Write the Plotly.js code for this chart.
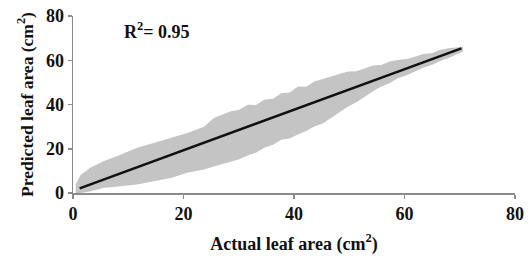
<!DOCTYPE html>
<html>
<head>
<meta charset="utf-8">
<script src="https://cdn.plot.ly/plotly-3.0.1.min.js"></script>
<style>html,body{margin:0;padding:0;background:#fff;}#chart{width:528px;height:259px;}</style>
</head>
<body>
<div id="chart"></div>
<script>
// Envelope of the scatter cloud (actual vs predicted leaf area)
const bandX     = [0.5, 1.4, 3.2, 5.5, 8.6, 11.6, 14.6, 17.7, 20.7, 23.7, 25.5, 28.6, 30.1, 31.6, 33.1, 34.6, 36.2, 37.7, 39.2, 40.7, 42.2, 43.7, 45.2, 46.7, 48.3, 49.8, 51.3, 52.8, 54.3, 55.8, 57.3, 58.8, 60.4, 61.9, 63.4, 64.9, 66.4, 67.9, 70.6];
const bandUpper = [4.0, 8.3, 11.5, 14.3, 17.3, 20.4, 22.6, 24.9, 27.1, 30.0, 33.9, 37.0, 37.6, 39.9, 39.8, 42.1, 42.6, 45.1, 45.4, 48.1, 48.0, 50.4, 51.4, 52.6, 53.9, 54.9, 55.0, 56.4, 57.6, 57.9, 59.4, 60.1, 60.6, 61.6, 62.8, 63.2, 64.6, 65.4, 66.1];
const bandLower = [0.0, 0.0, 0.8, 2.3, 3.0, 3.8, 5.3, 6.8, 9.1, 10.6, 12.0, 14.3, 15.2, 17.0, 18.2, 20.4, 21.8, 24.1, 24.6, 26.4, 28.0, 30.1, 31.4, 33.9, 36.6, 39.1, 41.0, 43.6, 46.0, 48.1, 49.6, 51.9, 53.2, 54.9, 56.6, 57.9, 59.6, 60.9, 63.9];
// Fitted regression line endpoints
const fitX = [1.2, 70.3];
const fitY = [2.1, 65.4];
const xTicks = [0, 20, 40, 60, 80];
const yTicks = [0, 20, 40, 60, 80];
const r2Label = "R<sup>2</sup>= 0.95";

const font = "Liberation Serif, Times New Roman, serif";
const axisColor = "#8c8c8c";

const traces = [
  {x: bandX, y: bandLower, mode: "lines", line: {width: 0, color: "#c4c4c4"}, hoverinfo: "skip", showlegend: false},
  {x: bandX, y: bandUpper, mode: "lines", line: {width: 0, color: "#c4c4c4"}, fill: "tonexty", fillcolor: "#c4c4c4", hoverinfo: "skip", showlegend: false},
  {x: fitX, y: fitY, mode: "lines", line: {width: 2.5, color: "#111111"}, showlegend: false}
];

const axisBase = {
  range: [0, 80], tickmode: "array", showgrid: false, zeroline: false,
  showline: true, linecolor: axisColor, linewidth: 1.5,
  ticks: "outside", ticklen: 4, tickcolor: axisColor, tickwidth: 1.5,
  tickfont: {family: font, size: 18, color: "#111"}
};

const layout = {
  width: 528, height: 259,
  margin: {l: 73, r: 13, t: 16, b: 66},
  paper_bgcolor: "#fff", plot_bgcolor: "#fff",
  xaxis: Object.assign({}, axisBase, {
    tickvals: xTicks, ticktext: xTicks.map(v => "<b>" + v + "</b>"),
    title: {text: "<b>Actual leaf area (cm<sup>2</sup>)</b>", font: {family: font, size: 18, color: "#111"}, standoff: 14}
  }),
  yaxis: Object.assign({}, axisBase, {
    tickvals: yTicks, ticktext: yTicks.map(v => "<b>" + v + "</b>"),
    title: {text: "<b>Predicted leaf area (cm<sup>2</sup>)</b>", font: {family: font, size: 17.5, color: "#111"}, standoff: 8}
  }),
  annotations: [{
    x: 8.8, y: 73.6, xref: "x", yref: "y", xanchor: "left", yanchor: "middle",
    text: "<b>" + r2Label + "</b>", showarrow: false,
    font: {family: font, size: 18, color: "#111"}
  }]
};

Plotly.newPlot("chart", traces, layout, {displayModeBar: false, staticPlot: true});
</script>
</body>
</html>
